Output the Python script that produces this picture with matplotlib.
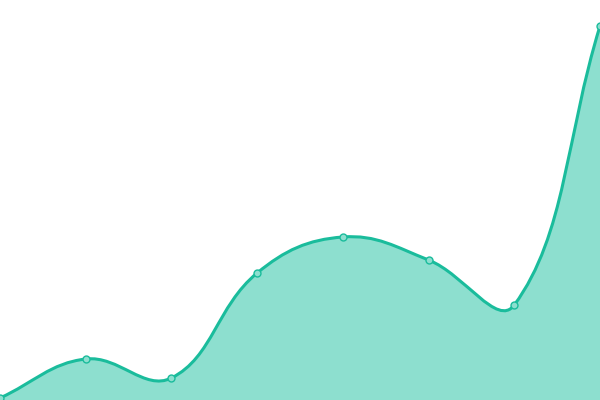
import matplotlib
matplotlib.use("Agg")
import matplotlib.pyplot as plt
import numpy as np
from matplotlib.path import Path
from matplotlib.patches import PathPatch

categories = list(range(8))
values = [2, 41, 22, 127, 163, 140, 95, 374]

line_color = "#1abc9c"
fill_color = "#8ddfcf"

fig = plt.figure(figsize=(6, 4), dpi=100)
ax = fig.add_axes([0, 0, 1, 1])
ax.set_xlim(0, 7)
ax.set_ylim(0, 400)
ax.axis("off")

# Chart.js-style cardinal spline (tension 0.4) computed in display space
pts = ax.transData.transform(np.column_stack([categories, values]).astype(float))
t = 0.4
n = len(pts)
cps = []
for i in range(n):
    prev = pts[max(i - 1, 0)]
    cur = pts[i]
    nxt = pts[min(i + 1, n - 1)]
    d01 = np.hypot(*(cur - prev))
    d12 = np.hypot(*(nxt - cur))
    tot = d01 + d12
    s01 = d01 / tot if tot else 0
    s12 = d12 / tot if tot else 0
    fa, fb = t * s01, t * s12
    cps.append((cur - fa * (nxt - prev), cur + fb * (nxt - prev)))

verts = [pts[0]]
codes = [Path.MOVETO]
for i in range(n - 1):
    verts += [cps[i][1], cps[i + 1][0], pts[i + 1]]
    codes += [Path.CURVE4] * 3
inv = ax.transData.inverted()
verts_data = inv.transform(np.array(verts))

line_path = Path(verts_data, codes)
fill_verts = list(verts_data) + [(categories[-1], 0), (categories[0], 0), verts_data[0]]
fill_codes = codes + [Path.LINETO, Path.LINETO, Path.CLOSEPOLY]
fill_path = Path(fill_verts, fill_codes)

ax.add_patch(PathPatch(fill_path, facecolor=fill_color, edgecolor="none", zorder=1))
ax.add_patch(PathPatch(line_path, facecolor="none", edgecolor=line_color, lw=2.2, zorder=2))
ax.plot(categories, values, "o", ms=5, mfc=fill_color, mec=line_color, mew=1.0, zorder=3, clip_on=False)

fig.savefig("out.png", dpi=100)
